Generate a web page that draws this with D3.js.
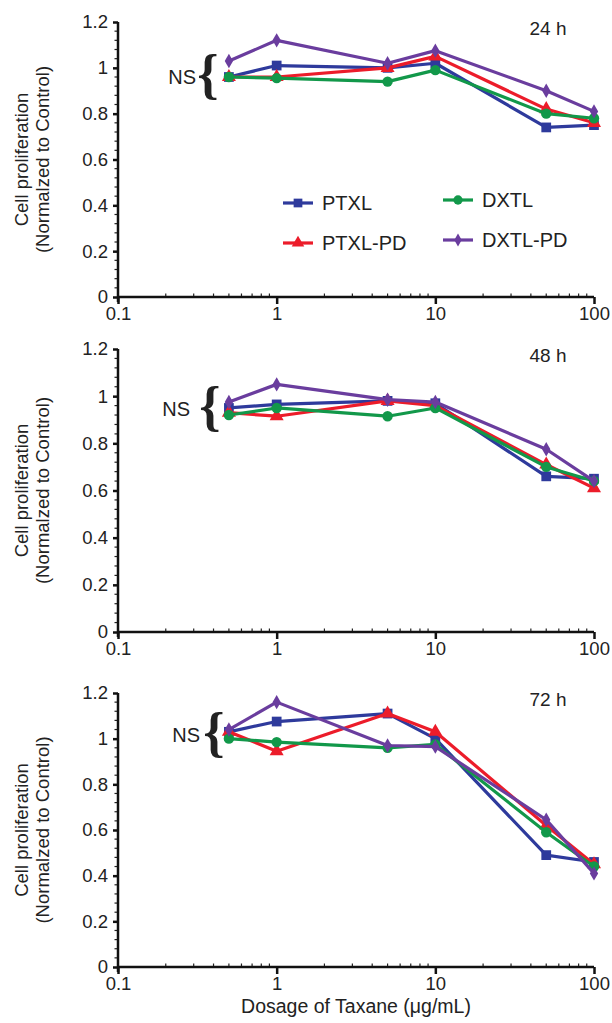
<!DOCTYPE html>
<html>
<head>
<meta charset="utf-8">
<script src="https://cdn.jsdelivr.net/npm/d3@7"></script>
<style>
  body { margin: 0; background: #fff; }
  svg text { font-family: "Liberation Sans", Arial, sans-serif; fill: #222; }
</style>
</head>
<body>
<svg id="chart" width="612" height="1023"></svg>
<script>
// dose levels (ug/mL) and series values
const doses = [0.5, 1, 5, 10, 50, 100];
const xTicks = [0.1, 1, 10, 100];
const yTicks = [0, 0.2, 0.4, 0.6, 0.8, 1, 1.2];
const seriesNames = ["PTXL", "PTXL-PD", "DXTL", "DXTL-PD"];
const timeLabels = ["24 h", "48 h", "72 h"];

const ptxl24   = [0.96, 1.01, 1.00, 1.02, 0.74, 0.75];
const ptxlPd24 = [0.96, 0.96, 1.00, 1.05, 0.82, 0.76];
const dxtl24   = [0.96, 0.955, 0.94, 0.99, 0.80, 0.78];
const dxtlPd24 = [1.03, 1.12, 1.02, 1.075, 0.90, 0.81];

const ptxl48   = [0.95, 0.965, 0.98, 0.97, 0.66, 0.65];
const ptxlPd48 = [0.93, 0.915, 0.98, 0.96, 0.71, 0.61];
const dxtl48   = [0.92, 0.95, 0.915, 0.95, 0.70, 0.64];
const dxtlPd48 = [0.975, 1.05, 0.985, 0.975, 0.775, 0.64];

const ptxl72   = [1.03, 1.075, 1.11, 1.00, 0.49, 0.46];
const ptxlPd72 = [1.03, 0.945, 1.11, 1.03, 0.62, 0.45];
const dxtl72   = [1.00, 0.985, 0.96, 0.975, 0.59, 0.44];
const dxtlPd72 = [1.04, 1.16, 0.97, 0.965, 0.645, 0.41];

const data = [
  [ptxl24, ptxlPd24, dxtl24, dxtlPd24],
  [ptxl48, ptxlPd48, dxtl48, dxtlPd48],
  [ptxl72, ptxlPd72, dxtl72, dxtlPd72]
];

const colors = ["#2e3a9c", "#ec1c2a", "#12984a", "#6a3d9e"];
const shapes = [d3.symbolSquare, d3.symbolTriangle, d3.symbolCircle, d3.symbolDiamond];
const sizes = [95, 85, 85, 60];

// panel geometry
const panels = [
  {top: 22, bottom: 297, ns: [196, 77], brace: 208},
  {top: 349, bottom: 632, ns: [190, 409], brace: 210},
  {top: 693, bottom: 967, ns: [200, 735], brace: 214}
];
const left = 118, right = 594;

const svg = d3.select("#chart");
const x = d3.scaleLog().domain([0.1, 100]).range([left, right]);

panels.forEach((p, pi) => {
  const y = d3.scaleLinear().domain([0, 1.2]).range([p.bottom, p.top]);
  const g = svg.append("g");

  // minor ticks
  const xMinor = [];
  [0.1, 1, 10].forEach(d => { for (let k = 2; k <= 9; k++) xMinor.push(d * k); });
  g.selectAll(".xminor").data(xMinor).join("line")
    .attr("x1", d => x(d)).attr("x2", d => x(d))
    .attr("y1", p.bottom).attr("y2", p.bottom - 3.5)
    .attr("stroke", "#222").attr("stroke-width", 1.2);
  const yMinor = d3.range(0, 1.2001, 0.04).filter((d, i) => i % 5 !== 0);
  g.selectAll(".yminor").data(yMinor).join("line")
    .attr("x1", left).attr("x2", left - 3.5)
    .attr("y1", d => y(d)).attr("y2", d => y(d))
    .attr("stroke", "#222").attr("stroke-width", 1.2);

  const xAxis = d3.axisBottom(x).tickValues(xTicks).tickFormat(d3.format("")).tickSize(7).tickPadding(3);
  const xa = g.append("g").attr("transform", `translate(0,${p.bottom})`).call(xAxis);
  const yAxis = d3.axisLeft(y).tickValues(yTicks).tickFormat(d => d === 0 ? "0" : d3.format("")(d)).tickSize(5).tickPadding(5);
  const ya = g.append("g").attr("transform", `translate(${left},0)`).call(yAxis);
  [xa, ya].forEach(a => {
    a.select(".domain").attr("stroke", "#111").attr("stroke-width", 2.5);
    a.selectAll(".tick line").attr("stroke", "#111").attr("stroke-width", 2.5);
    a.selectAll("text").attr("font-size", 18.5).attr("fill", "#222")
      .style("font-family", "'Liberation Sans', Arial, sans-serif");
  });
  xa.select(".domain").attr("d", `M${left - 1},0H${right}`);
  ya.select(".domain").attr("d", `M0,${p.top}V${p.bottom + 5}`);

  // y title
  const cy = (p.top + p.bottom) / 2;
  g.append("text").attr("transform", `translate(28,${cy}) rotate(-90)`)
    .attr("text-anchor", "middle").attr("font-size", 18.5).text("Cell proliferation");
  g.append("text").attr("transform", `translate(49,${cy}) rotate(-90)`)
    .attr("text-anchor", "middle").attr("font-size", 18.5).text("(Normalzed to Control)");

  // time label
  g.append("text").attr("x", 548).attr("y", y(1.2) + 13).attr("text-anchor", "middle")
    .attr("font-size", 19).text(timeLabels[pi]);

  // NS brace
  g.append("text").attr("x", p.ns[0]).attr("y", p.ns[1] + 7).attr("text-anchor", "end")
    .attr("font-size", 20).text("NS");
  g.append("text").attr("x", p.brace).attr("y", p.ns[1] + 15).attr("text-anchor", "middle")
    .attr("font-size", 54).attr("font-weight", "bold")
    .style("font-family", "'Liberation Serif', serif").attr("fill", "#111").text("{");

  // series lines and markers
  const line = d3.line().x((d, i) => x(doses[i])).y(d => y(d));
  data[pi].forEach((vals, si) => {
    g.append("path").datum(vals).attr("d", line)
      .attr("fill", "none").attr("stroke", colors[si]).attr("stroke-width", 3.2)
      .attr("stroke-linejoin", "round");
    g.selectAll(".m" + si).data(vals).join("path")
      .attr("transform", (d, i) => `translate(${x(doses[i])},${y(d)})`)
      .attr("d", d3.symbol().type(shapes[si]).size(sizes[si]))
      .attr("fill", colors[si]);
  });

  // legend in the first panel
  if (pi === 0) {
    const pos = [[283, 203], [283, 243], [443, 200], [443, 240]];
    seriesNames.forEach((name, si) => {
      const lg = g.append("g").attr("transform", `translate(${pos[si][0]},${pos[si][1]})`);
      lg.append("line").attr("x1", 0).attr("x2", 30).attr("stroke", colors[si]).attr("stroke-width", 3.2);
      lg.append("path").attr("transform", "translate(15,0)")
        .attr("d", d3.symbol().type(shapes[si]).size(sizes[si] * 0.8)).attr("fill", colors[si]);
      lg.append("text").attr("x", 39).attr("y", 7).attr("font-size", 20).text(name);
    });
  }
});

svg.append("text").attr("x", 356).attr("y", 1013).attr("text-anchor", "middle")
  .attr("font-size", 19.5).text("Dosage of Taxane (\u03bcg/mL)");
</script>
</body>
</html>
